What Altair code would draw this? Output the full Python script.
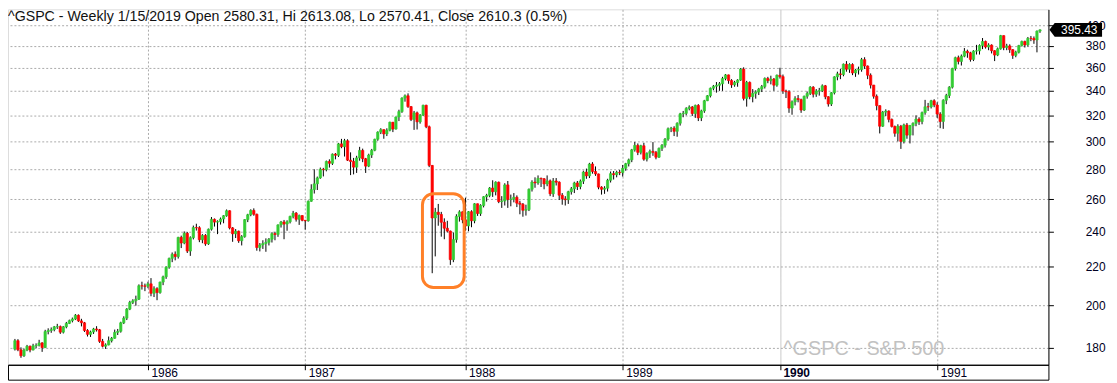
import altair as alt
import pandas as pd

# ---------------- data (weekly bars) ----------------
first_open = 179.4

close_1985 = [183.2, 179.1, 176.5, 179.0, 180.7, 179.0, 180.9, 181.1, 182.2, 180.1,
              187.4, 187.9, 188.3, 189.6, 189.7, 187.1, 189.6, 191.2, 192.5, 193.3,
              195.1, 192.4, 191.5, 187.9, 186.1, 187.2, 188.6, 188.2, 182.9, 180.7,
              181.3, 183.2, 184.3, 187.0, 187.5, 191.5, 193.7, 198.1, 201.4, 202.2,
              203.0, 209.9, 209.8, 209.6]
high_1985 = [184.0, 183.9, 180.2, 179.6, 181.3, 181.0, 181.8, 182.0, 183.6, 182.5,
             188.2, 188.9, 189.3, 190.0, 191.0, 190.2, 190.0, 191.9, 193.0, 194.0,
             195.7, 195.5, 193.4, 191.9, 188.5, 187.8, 189.1, 189.9, 188.6, 184.0,
             182.0, 185.1, 184.9, 188.3, 188.6, 192.0, 194.6, 198.6, 202.2, 203.0,
             204.8, 210.6, 212.0, 211.0]
low_1985 = [178.8, 178.5, 175.6, 176.0, 178.5, 178.0, 178.9, 179.8, 180.6, 178.2,
            179.9, 186.1, 186.8, 187.5, 188.6, 186.3, 186.5, 188.9, 190.9, 191.7,
            192.8, 191.9, 189.8, 187.2, 185.1, 184.9, 186.3, 187.4, 182.2, 180.2,
            179.5, 181.1, 182.4, 184.1, 185.8, 186.9, 190.9, 192.8, 197.6, 200.6,
            199.8, 202.6, 207.9, 207.1]

close_1986 = [210.9, 206.0, 208.4, 206.4, 211.8, 214.6, 219.8, 224.6, 226.9, 225.6,
              236.6, 233.3, 239.0, 228.7, 236.4, 242.4, 242.3, 235.2, 237.7, 232.8,
              241.4, 247.4, 245.7, 246.0, 247.6, 249.6, 252.7, 242.2, 238.7, 240.2,
              234.6, 237.0, 247.2, 250.2, 252.9, 250.5, 230.7, 232.2, 233.0, 233.7,
              235.5, 238.8, 238.3, 244.0, 245.8, 244.5, 245.9, 249.2, 251.2, 247.4,
              249.7, 246.8]
high_1986 = [212.0, 213.9, 209.6, 209.1, 212.0, 215.2, 220.2, 225.0, 227.9, 228.5,
             236.9, 237.6, 240.1, 239.8, 237.2, 243.6, 244.7, 243.2, 238.5, 238.5,
             241.8, 248.8, 247.9, 246.8, 248.5, 250.0, 253.5, 253.0, 242.7, 241.5,
             240.6, 237.9, 247.5, 250.8, 253.6, 254.2, 250.9, 233.3, 234.9, 236.0,
             236.2, 239.6, 239.9, 244.3, 246.4, 247.0, 246.8, 249.6, 252.6, 251.9,
             250.3, 249.9]
low_1986 = [208.6, 204.5, 204.1, 202.5, 205.8, 210.2, 213.5, 218.9, 222.5, 223.5,
            224.5, 230.4, 232.6, 227.6, 226.0, 235.4, 240.6, 233.8, 233.2, 231.7,
            232.2, 240.6, 243.0, 238.5, 244.2, 245.0, 249.0, 241.3, 234.0, 236.2,
            233.4, 231.9, 236.4, 245.7, 249.3, 249.6, 228.9, 228.5, 229.9, 228.3,
            231.9, 233.6, 234.9, 236.9, 242.4, 235.5, 240.5, 244.9, 248.0, 246.0,
            244.0, 246.2]

close_1987 = [246.5, 258.7, 266.3, 270.1, 274.1, 280.0, 279.7, 285.5, 284.2, 290.7,
              289.9, 298.2, 296.1, 300.5, 286.4, 285.5, 281.5, 288.0, 293.4, 287.4,
              282.2, 290.1, 293.5, 301.6, 307.0, 308.9, 305.6, 308.4, 314.6, 309.3,
              318.7, 323.0, 334.0, 335.9, 327.0, 316.7, 322.0, 314.9, 320.2, 328.1,
              311.1, 282.7, 248.2, 251.8, 250.4, 245.6, 242.0, 240.3, 223.9, 235.3,
              249.2, 252.0, 247.1]
high_1987 = [247.0, 259.2, 269.8, 280.0, 275.0, 281.2, 281.0, 286.1, 287.0, 291.2,
             291.5, 298.9, 301.9, 301.9, 301.6, 292.0, 288.0, 289.5, 296.0, 294.7,
             288.0, 291.0, 294.5, 302.0, 307.6, 310.0, 309.0, 309.9, 315.0, 314.8,
             319.0, 324.5, 334.6, 337.0, 337.9, 327.5, 323.5, 323.0, 321.0, 328.5,
             328.5, 312.0, 283.0, 254.5, 257.0, 252.0, 248.0, 246.5, 240.6, 239.5,
             250.5, 253.0, 252.3]
low_1987 = [241.2, 246.0, 258.4, 263.7, 266.0, 273.5, 275.1, 278.6, 281.2, 283.0,
            287.0, 288.7, 295.0, 289.0, 285.8, 276.0, 276.5, 277.5, 286.0, 285.0,
            277.5, 281.5, 288.0, 292.8, 300.5, 305.5, 302.0, 304.0, 307.6, 307.0,
            309.0, 315.5, 322.0, 331.0, 326.0, 315.5, 308.7, 309.0, 313.5, 319.5,
            310.0, 281.5, 216.5, 225.7, 243.5, 237.0, 235.5, 239.5, 221.0, 222.5,
            233.5, 246.0, 245.0]

close_1988 = [243.4, 252.1, 246.5, 257.1, 251.0, 256.0, 261.6, 262.5, 267.3, 264.9,
              271.2, 258.5, 258.9, 269.4, 259.8, 260.1, 261.3, 257.5, 256.8, 253.0,
              253.4, 266.5, 271.3, 270.7, 273.8, 273.5, 270.0, 272.1, 263.5, 272.0,
              271.2, 262.6, 260.2, 259.7, 264.9, 266.8, 270.7, 268.3, 271.9, 278.1,
              275.5, 283.7, 278.5, 276.8, 267.9, 266.5, 267.2, 272.5, 277.0, 276.3,
              277.9, 277.7]
high_1988 = [261.0, 252.5, 253.0, 257.5, 257.2, 256.8, 262.0, 263.5, 268.0, 272.5,
             271.8, 271.6, 262.0, 270.5, 272.0, 263.0, 264.0, 262.5, 259.0, 257.6,
             256.5, 267.0, 272.5, 274.5, 275.8, 274.3, 274.0, 275.8, 273.0, 274.0,
             274.0, 271.8, 264.0, 262.0, 265.5, 268.0, 271.5, 272.0, 273.0, 279.0,
             280.5, 284.5, 285.0, 282.0, 277.0, 268.5, 268.5, 273.5, 278.5, 278.8,
             279.0, 279.5]
low_1988 = [240.5, 240.2, 242.6, 245.0, 249.5, 249.5, 254.8, 258.5, 261.3, 261.5,
            262.5, 257.5, 254.5, 256.0, 254.5, 255.5, 258.0, 255.0, 250.5, 249.0,
            249.7, 252.5, 265.0, 267.5, 269.5, 268.0, 266.5, 268.5, 262.0, 261.5,
            269.0, 259.5, 256.5, 256.0, 257.0, 263.0, 264.0, 266.0, 266.5, 270.0,
            273.5, 274.0, 277.0, 275.5, 266.5, 263.0, 263.5, 265.0, 271.0, 273.0,
            274.5, 276.0]

close_1989 = [280.7, 283.9, 286.6, 293.8, 297.1, 292.0, 296.8, 287.1, 291.2, 292.7,
              292.0, 288.5, 294.9, 297.2, 301.7, 309.6, 310.0, 307.6, 313.8, 321.2,
              321.6, 325.5, 326.7, 321.4, 328.0, 318.0, 323.5, 331.8, 335.9, 342.2,
              343.9, 344.7, 346.0, 350.5, 353.7, 348.8, 345.1, 347.1, 349.2, 358.8,
              333.7, 347.2, 335.1, 337.9, 339.1, 341.6, 343.6, 350.6, 348.7, 350.1,
              344.8, 353.4]
high_1989 = [283.0, 284.5, 287.5, 294.5, 299.6, 298.5, 297.5, 299.0, 292.0, 294.0,
             299.5, 293.0, 295.5, 298.0, 302.5, 310.5, 311.0, 311.5, 314.5, 322.0,
             323.5, 326.5, 328.0, 327.5, 328.6, 329.0, 324.5, 332.5, 336.5, 342.8,
             345.0, 347.5, 347.5, 352.0, 354.5, 353.9, 350.0, 348.5, 350.0, 359.8,
             360.4, 348.5, 348.0, 341.5, 340.5, 342.5, 345.0, 351.5, 352.0, 353.0,
             351.0, 354.0]
low_1989 = [275.0, 279.0, 282.0, 285.0, 292.5, 290.0, 290.5, 286.0, 285.5, 288.0,
            289.5, 287.0, 288.0, 293.0, 295.5, 300.5, 307.0, 304.0, 303.5, 312.0,
            318.5, 320.0, 324.0, 319.5, 318.0, 315.5, 315.5, 322.0, 331.5, 334.5,
            340.5, 338.5, 340.0, 340.0, 349.0, 346.0, 342.5, 343.5, 343.5, 348.5,
            332.0, 327.0, 333.0, 330.5, 333.5, 336.5, 339.0, 342.0, 346.5, 345.5,
            340.0, 343.5]

close_1990 = [352.2, 339.9, 339.2, 325.8, 330.9, 333.6, 332.7, 324.2, 335.5, 337.9,
              343.1, 337.2, 339.9, 340.1, 344.3, 335.1, 329.1, 338.4, 352.0, 354.6,
              354.0, 363.2, 358.7, 362.9, 355.4, 358.0, 358.4, 367.3, 361.6, 353.4,
              344.9, 335.5, 327.8, 311.5, 322.6, 323.4, 316.8, 311.3, 306.1, 311.5,
              300.0, 312.5, 304.7, 311.9, 313.7, 317.1, 315.1, 322.2, 326.9, 326.8,
              331.8, 328.3]
high_1990 = [360.0, 354.0, 341.0, 340.5, 332.0, 335.5, 336.5, 333.5, 336.0, 339.5,
             344.0, 344.0, 341.5, 342.5, 345.5, 345.0, 335.5, 339.0, 352.5, 356.5,
             359.0, 363.8, 366.0, 364.0, 364.0, 359.0, 361.0, 368.9, 369.5, 362.0,
             355.0, 345.0, 337.0, 328.0, 323.5, 324.8, 324.0, 317.5, 312.0, 313.0,
             312.5, 313.5, 314.0, 312.5, 314.5, 320.0, 318.5, 323.0, 332.5, 330.0,
             332.5, 333.0]
low_1990 = [350.5, 337.5, 334.0, 322.0, 320.5, 328.0, 330.5, 322.0, 323.5, 333.5,
            336.5, 334.5, 335.0, 336.0, 339.0, 333.0, 327.0, 327.5, 337.0, 349.0,
            350.0, 352.5, 356.5, 355.5, 353.5, 352.0, 354.0, 356.5, 359.0, 350.0,
            342.0, 333.5, 324.0, 306.0, 311.0, 319.5, 314.5, 310.5, 303.5, 300.0,
            294.5, 298.5, 302.0, 298.5, 304.5, 311.5, 312.5, 313.0, 320.5, 323.5,
            325.5, 326.5]

close_1991 = [321.0, 315.2, 332.2, 336.1, 343.1, 359.4, 369.1, 365.7, 370.5, 375.0,
              373.6, 367.5, 375.2, 375.4, 380.4, 384.2, 379.0, 380.8, 375.5, 371.5,
              377.3, 389.8, 378.5, 380.0, 376.5, 371.2, 374.1, 380.3, 384.2, 380.9,
              387.2, 387.1, 385.6, 394.2, 395.43]
high_1991 = [330.5, 322.5, 333.0, 337.5, 344.0, 360.0, 370.0, 371.0, 372.0, 378.0,
             376.5, 374.5, 376.0, 381.0, 381.5, 387.5, 385.0, 382.5, 381.5, 376.0,
             378.5, 390.5, 390.0, 382.0, 381.5, 377.0, 375.5, 381.0, 385.0, 385.0,
             388.5, 389.5, 389.0, 394.8, 395.8]
low_1991 = [318.0, 310.0, 309.5, 329.0, 334.0, 342.0, 357.5, 363.0, 362.0, 369.5,
            369.0, 365.5, 366.0, 372.0, 372.0, 377.0, 377.5, 376.0, 373.0, 366.0,
            370.5, 376.5, 376.0, 376.0, 373.5, 368.0, 369.5, 373.0, 379.5, 378.5,
            379.5, 384.5, 382.0, 374.0, 392.5]

y_ticks = [180, 200, 220, 240, 260, 280, 300, 320, 340, 360, 380, 400]
year_starts = ["1986-01-03", "1987-01-02", "1988-01-08", "1989-01-06", "1990-01-05", "1991-01-04"]
title_text = "^GSPC - Weekly 1/15/2019 Open 2580.31, Hi 2613.08, Lo 2570.41, Close 2610.3 (0.5%)"
watermark_text = "^GSPC - S&P 500"
box_dates = ["1987-09-30T10:00:00", "1988-01-05T00:00:00"]
box_prices = [263.5, 209.0]

# ---------------- table ----------------
close = close_1985 + close_1986 + close_1987 + close_1988 + close_1989 + close_1990 + close_1991
high = high_1985 + high_1986 + high_1987 + high_1988 + high_1989 + high_1990 + high_1991
low = low_1985 + low_1986 + low_1987 + low_1988 + low_1989 + low_1990 + low_1991
opens = [first_open] + close[:-1]
dates = pd.date_range("1985-03-01", periods=len(close), freq="7D").strftime("%Y-%m-%d")

df = pd.DataFrame({
    "date": dates,
    "open": opens,
    "close": close,
    "high": [max(h, o, c) for h, o, c in zip(high, opens, close)],
    "low": [min(l, o, c) for l, o, c in zip(low, opens, close)],
})
df["dir"] = ["up" if c >= o else "down" for o, c in zip(opens, close)]

FONT = "Liberation Sans"
W, H = 1048, 358

x_scale = alt.Scale(
    type="utc",
    domain=[alt.DateTime(year=1985, month=2, date=24, hours=11, utc=True),
            alt.DateTime(year=1991, month=9, date=7, hours=2, utc=True)],
)
y_scale = alt.Scale(type="log", domain=[172.6, 416.0], nice=False, zero=False)

def _dt(s):
    y, m, d = s.split("-")
    return alt.DateTime(year=int(y), month=int(m), date=int(d), utc=True)

x_axis = alt.Axis(
    values=[_dt(s) for s in year_starts],
    labelExpr="utcFormat(datum.value, '%Y')",
    title=None,
    orient="bottom",
    domainColor="black",
    tickColor="black",
    tickSize=5,
    labelAlign="left",
    labelBaseline="top",
    labelOffset=3,
    labelPadding=-2,
    labelFont=FONT,
    labelFontSize=12,
    labelColor="#000022",
    labelFontWeight={"condition": {"test": "utcyear(datum.value) == 1990", "value": "bold"}, "value": "normal"},
    grid=True,
    gridColor={"condition": {"test": "utcyear(datum.value) == 1990", "value": "#c4c4c4"}, "value": "#aaaaaa"},
    gridDash={"condition": {"test": "utcyear(datum.value) == 1990", "value": [1, 0]}, "value": [2, 2]},
    gridWidth=1,
)
y_axis = alt.Axis(
    values=y_ticks,
    format="d",
    title=None,
    orient="right",
    domainColor="black",
    tickColor="black",
    tickSize=5,
    labelAlign="left",
    labelPadding=32,
    labelFont=FONT,
    labelFontSize=12,
    labelColor="#000022",
    grid=True,
    gridColor="#aaaaaa",
    gridDash=[2, 2],
    gridWidth=1,
)

base = alt.Chart(df).encode(x=alt.X("date:T", scale=x_scale, axis=x_axis))

wicks = base.mark_rule(color="black", strokeWidth=1).encode(
    y=alt.Y("low:Q", scale=y_scale, axis=y_axis),
    y2="high:Q",
)

col_scale = alt.Scale(domain=["up", "down"], range=["#33cc33", "#ff0000"])
bodies = base.mark_bar(size=2.3, strokeWidth=0.7).encode(
    y=alt.Y("open:Q"),
    y2="close:Q",
    color=alt.Color("dir:N", scale=col_scale, legend=None),
    stroke=alt.Stroke("dir:N", scale=col_scale, legend=None),
)

box_df = pd.DataFrame({"d1": [box_dates[0]], "d2": [box_dates[1]],
                       "p1": [box_prices[0]], "p2": [box_prices[1]]})
crash_box = alt.Chart(box_df).mark_rect(
    filled=False, stroke="#ff8028", strokeWidth=3, cornerRadius=11
).encode(x="d1:T", x2="d2:T", y="p1:Q", y2="p2:Q")

one = pd.DataFrame({"k": [0]})
frame = alt.Chart(one).mark_rect(filled=False, stroke="black", strokeWidth=1).encode(
    x=alt.value(0.5), x2=alt.value(W + 0.5), y=alt.value(H + 0.5), y2=alt.value(H + 15.5)
)

title = alt.Chart(pd.DataFrame({"t": [title_text]})).mark_text(
    align="left", baseline="top", font=FONT, fontSize=14.3, color="#111111"
).encode(x=alt.value(0), y=alt.value(1), text="t:N")

watermark = alt.Chart(pd.DataFrame({"t": [watermark_text]})).mark_text(
    align="center", baseline="alphabetic", font=FONT, fontSize=20, color="#c2c2c2"
).encode(x=alt.value(862), y=alt.value(348), text="t:N")

last_df = pd.DataFrame({"price": [close[-1]], "label": [f"{close[-1]:.2f}"]})
tag_shape = "M -1 0 L -0.8 -0.26 L 1 -0.26 L 1 0.26 L -0.8 0.26 Z"
tag = alt.Chart(last_df).mark_point(
    shape=tag_shape, size=2809, filled=True, color="black", opacity=1, strokeWidth=0
).encode(x=alt.value(1075.5), y=alt.Y("price:Q"))
tag_text = alt.Chart(last_df).mark_text(
    align="center", baseline="middle", font=FONT, fontSize=12, color="white"
).encode(x=alt.value(1079), y=alt.Y("price:Q"), text="label:N")

chart = alt.layer(
    wicks, bodies, crash_box, frame, watermark, title, tag, tag_text
).properties(
    width=W, height=H,
    autosize=alt.AutoSizeParams(type="none"),
    padding={"left": 0, "top": 0, "right": 61, "bottom": 17},
).configure_view(stroke=None).configure(background="white")

chart.save("out.html", embed_options={"renderer": "svg", "actions": False})
